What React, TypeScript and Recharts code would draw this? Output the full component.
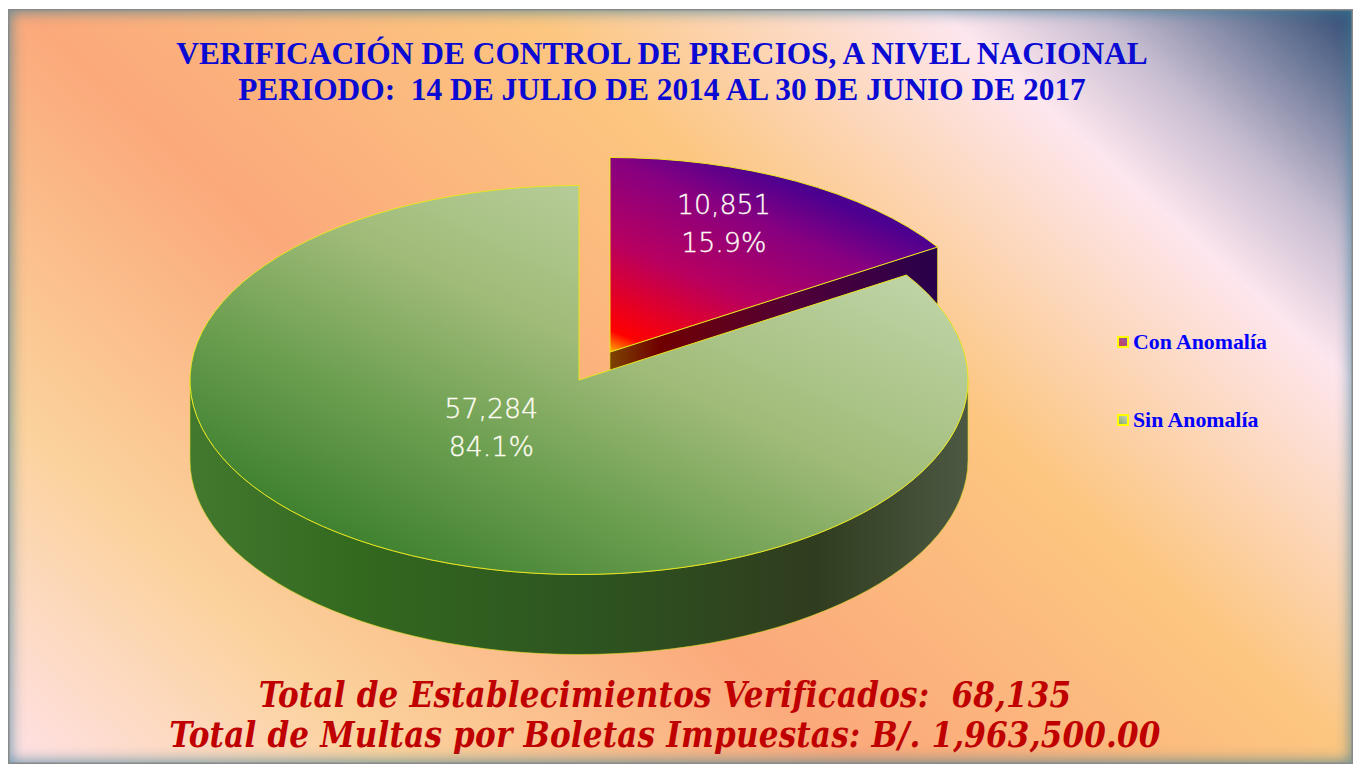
import React from 'react';
import { PieChart, Pie, Legend } from 'recharts';

const categories = ['Con Anomalía', 'Sin Anomalía'];
const establishments = [10851, 57284];
const titleLines = [
  'VERIFICACIÓN DE CONTROL DE PRECIOS, A NIVEL NACIONAL',
  'PERIODO:  14 DE JULIO DE 2014 AL 30 DE JUNIO DE 2017',
];
const footerLines = [
  'Total de Establecimientos Verificados:  68,135',
  'Total de Multas por Boletas Impuestas: B/. 1,963,500.00',
];

const chartData = categories.map((name, i) => ({ name, value: establishments[i] }));

// fake 3D: the pie is squashed to an ellipse and gets a wall below it
const TILT = 0.5;
const DEPTH = 80;
const RAD = Math.PI / 180;

const sliceLook: Record<string, any> = {
  'Con Anomalía': { top: 'url(#topPurple)', wall: 'url(#wallPurple)', dx: 31, dy: -28, lx: 0.61, ly: 0.75 },
  'Sin Anomalía': { top: 'url(#topGreen)', wall: 'url(#wallGreen)', dx: 0, dy: 0, lx: 0.47, ly: 0.28 },
};

function Slice3D(props: any) {
  const { cx, cy, outerRadius, startAngle, endAngle, name } = props;
  const look = sliceLook[name];
  const x0 = cx + look.dx;
  const y0 = cy + look.dy;
  const rx = outerRadius;
  const ry = outerRadius * TILT;
  const px = (a: number) => x0 + rx * Math.cos(a * RAD);
  const py = (a: number) => y0 - ry * Math.sin(a * RAD);
  const large = startAngle - endAngle > 180 ? 1 : 0;

  const top = `M${x0},${y0} L${px(startAngle)},${py(startAngle)} A${rx},${ry} 0 ${large} 1 ${px(endAngle)},${py(endAngle)} Z`;

  let wall = '';
  if (endAngle < 0) {
    // front half of the rim
    wall = `M${px(0)},${py(0)} A${rx},${ry} 0 0 1 ${px(-180)},${py(-180)} L${px(-180)},${py(-180) + DEPTH} A${rx},${ry} 0 0 0 ${px(0)},${py(0) + DEPTH} Z`;
  } else {
    // cut face of the pulled out slice
    wall = `M${x0},${y0} L${px(endAngle)},${py(endAngle)} L${px(endAngle)},${py(endAngle) + DEPTH} L${x0},${y0 + DEPTH} Z`;
  }

  return (
    <g>
      <path d={wall} fill={look.wall} stroke="#d8d820" strokeWidth={0.6} />
      <path d={top} fill={look.top} stroke="#e6e620" strokeWidth={1} strokeLinejoin="round" />
    </g>
  );
}

function renderLabel(props: any) {
  const { cx, cy, outerRadius, midAngle, value, percent, name } = props;
  const look = sliceLook[name];
  const x = cx + look.dx + outerRadius * look.lx * Math.cos(midAngle * RAD);
  const y = cy + look.dy - outerRadius * TILT * look.ly * Math.sin(midAngle * RAD);
  const textStyle = {
    fontFamily: 'DejaVu Sans',
    fontSize: 26.8,
    fontWeight: 200,
    fill: '#fffdf4',
    stroke: '#fffdf4',
    strokeWidth: 0.35,
  };
  return (
    <g key={name}>
      <text x={x} y={y - 10} textAnchor="middle" style={textStyle}>
        {value.toLocaleString('en-US')}
      </text>
      <text x={x} y={y + 28} textAnchor="middle" style={textStyle}>
        {(percent * 100).toFixed(1)}%
      </text>
    </g>
  );
}

const legendSwatches: Record<string, string> = {
  'Con Anomalía': 'linear-gradient(45deg, #d0405a, #8a5aa8)',
  'Sin Anomalía': 'linear-gradient(45deg, #8aa870, #c8d4b8)',
};

function renderLegend(props: any) {
  return (
    <div>
      {props.payload.map((entry: any) => (
        <div key={entry.value} style={{ display: 'flex', alignItems: 'center', height: 24, marginBottom: 54 }}>
          <span
            style={{
              width: 8,
              height: 8,
              border: '2px solid #ffff00',
              background: legendSwatches[entry.value],
              marginRight: 4,
            }}
          />
          <span style={{ fontFamily: 'Liberation Serif', fontWeight: 700, fontSize: 21.8, color: '#0000ff' }}>
            {entry.value}
          </span>
        </div>
      ))}
    </div>
  );
}

export default function App() {
  return (
    <div
      style={{
        position: 'absolute',
        left: 8,
        top: 9,
        width: 1345,
        height: 755,
        overflow: 'hidden',
        background:
          'linear-gradient(42deg, #ffe1e6 0%, #fbd29c 18%, #fba97b 39%, #fcc680 62%, #fde6ee 81%, #c6bcd0 88%, #2f4a72 100%)',
      }}
    >
      <PieChart
        width={1345}
        height={755}
        margin={{ top: 0, right: 0, bottom: 0, left: 0 }}
        style={{ position: 'absolute', left: 0, top: 0 }}
      >
        <defs>
          <linearGradient id="topPurple" x1="0" y1="1" x2="0.6" y2="0.16">
            <stop offset="0%" stopColor="#ffb000" />
            <stop offset="9%" stopColor="#ff0000" />
            <stop offset="45%" stopColor="#b80060" />
            <stop offset="78%" stopColor="#880080" />
            <stop offset="100%" stopColor="#4b0090" />
          </linearGradient>
          <linearGradient id="wallPurple" x1="0" y1="0" x2="1" y2="0">
            <stop offset="0%" stopColor="#7c4400" />
            <stop offset="15%" stopColor="#700000" />
            <stop offset="55%" stopColor="#520036" />
            <stop offset="100%" stopColor="#28004c" />
          </linearGradient>
          <linearGradient id="topGreen" x1="0.2" y1="1" x2="1" y2="0.15">
            <stop offset="0%" stopColor="#347a28" />
            <stop offset="30%" stopColor="#6c9f50" />
            <stop offset="55%" stopColor="#a0bb78" />
            <stop offset="100%" stopColor="#c8dab2" />
          </linearGradient>
          <linearGradient id="wallGreen" x1="0" y1="0" x2="1" y2="0">
            <stop offset="0%" stopColor="#42792f" />
            <stop offset="22%" stopColor="#33681f" />
            <stop offset="52%" stopColor="#2d5420" />
            <stop offset="80%" stopColor="#303c1e" />
            <stop offset="100%" stopColor="#4c5842" />
          </linearGradient>
        </defs>
        {titleLines.map((line, i) => (
          <text
            key={line}
            x={654}
            y={55 + i * 36}
            textAnchor="middle"
            style={{ fontFamily: 'Liberation Serif', fontWeight: 700, fontSize: 31.4, fill: '#0a0ad2', whiteSpace: 'pre' }}
          >
            {line}
          </text>
        ))}
        <Pie
          data={chartData}
          dataKey="value"
          nameKey="name"
          cx={571}
          cy={371}
          outerRadius={389}
          startAngle={90}
          endAngle={-270}
          stroke="none"
          shape={Slice3D}
          label={renderLabel}
          labelLine={false}
          isAnimationActive={false}
        />
        <Legend
          layout="vertical"
          align="right"
          verticalAlign="top"
          content={renderLegend}
          wrapperStyle={{ left: 1109, top: 321, width: 200 }}
        />
        {footerLines.map((line, i) => (
          <text
            key={line}
            x={657}
            y={698 + i * 40}
            textAnchor="middle"
            style={{
              fontFamily: 'DejaVu Serif',
              fontWeight: 700,
              fontStyle: 'italic',
              fontStretch: 'condensed',
              fontSize: 34.5,
              letterSpacing: 0.2,
              fill: '#c00000',
              whiteSpace: 'pre',
            }}
          >
            {line}
          </text>
        ))}
      </PieChart>
      <div
        style={{
          position: 'absolute',
          inset: 0,
          pointerEvents: 'none',
          boxShadow: 'inset 0 0 0 1.5px #8a8a8a, inset 0 0 14px 3px rgba(60,130,155,0.75)',
        }}
      />
    </div>
  );
}
